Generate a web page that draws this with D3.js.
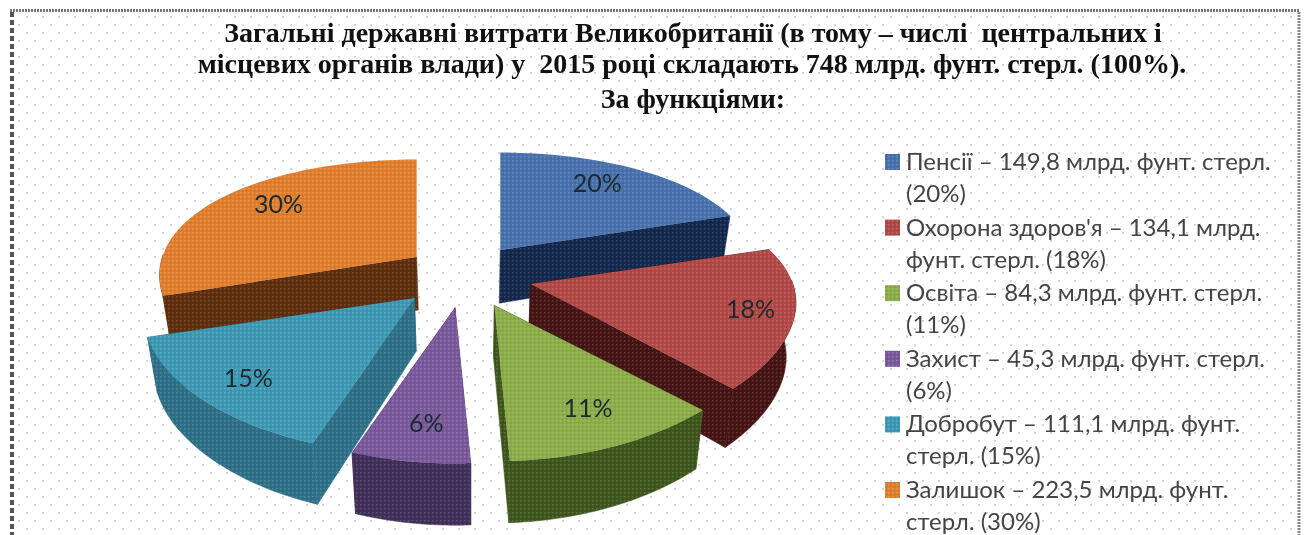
<!DOCTYPE html>
<html><head><meta charset="utf-8">
<script src="https://cdn.jsdelivr.net/npm/d3@7/dist/d3.min.js"></script>
<style>html,body{margin:0;padding:0;background:#fff;overflow:hidden}svg{display:block}
.soft{filter:blur(0.6px)}</style></head><body><div id="c"></div>
<script>
const categories=["Пенсії","Охорона здоров'я","Освіта","Захист","Добробут","Залишок"];
const values=[149.8,134.1,84.3,45.3,111.1,223.5];
const percents=[20,18,11,6,15,30];
const legendLines=[["Пенсії – 149,8 млрд. фунт. стерл.","(20%)"],["Охорона здоров'я – 134,1 млрд.","фунт. стерл. (18%)"],["Освіта – 84,3 млрд. фунт. стерл.","(11%)"],["Захист – 45,3 млрд. фунт. стерл.","(6%)"],["Добробут – 111,1 млрд. фунт.","стерл. (15%)"],["Залишок – 223,5 млрд. фунт.","стерл. (30%)"]];
const titleLines=["Загальні державні витрати Великобританії (в тому – числі  центральних і","місцевих органів влади) у  2015 році складають 748 млрд. фунт. стерл. (100%).","За функціями:"];
const topColors=["#4a72ae","#b34a48","#8dae4a","#7a5a9c","#3f9ab6","#e27f2e"];
const wallColors=["#14294e","#461414","#3f561c","#41305a","#2f7188","#5f2f0e"];

const W=1305,H=535;
const svg=d3.select("#c").append("svg").attr("width",W).attr("height",H);
const defs=svg.append("defs");
const bg=defs.append("pattern").attr("id","bgdots").attr("width",16).attr("height",16).attr("patternUnits","userSpaceOnUse");
bg.append("rect").attr("x",10.2).attr("y",0.2).attr("width",1.6).attr("height",1.6).attr("fill","#bdbdbd");
bg.append("rect").attr("x",2.2).attr("y",8.2).attr("width",1.6).attr("height",1.6).attr("fill","#bdbdbd");
const tex=defs.append("pattern").attr("id","tex").attr("width",4).attr("height",4).attr("patternUnits","userSpaceOnUse");
tex.append("rect").attr("width",1.4).attr("height",1.4).attr("fill","#fff").attr("opacity",.16);
tex.append("rect").attr("x",2).attr("y",2).attr("width",1.4).attr("height",1.4).attr("fill","#000").attr("opacity",.12);

const root=svg.append("g").attr("class","soft");
root.append("rect").attr("x",14).attr("y",12).attr("width",1283).attr("height",H).attr("fill","url(#bgdots)");
const edge=(d,c,w,dash)=>root.append("path").attr("d",d).attr("fill","none").attr("stroke",c).attr("stroke-width",w).attr("stroke-dasharray",dash);
edge(`M10 10.5H1300`,"#777",3,"2 1");
edge(`M12 12V${H}`,"#555",4,"5 3");
edge(`M1299 12V${H}`,"#888",3,"2 1");

const title=root.append("text").attr("text-anchor","middle").attr("font-family","Liberation Serif").attr("font-weight","bold").attr("font-size",28).attr("fill","#111").attr("xml:space","preserve");
const titleX=[693,692,693],titleY=[42,73,108];
titleLines.forEach((t,i)=>title.append("tspan").attr("x",titleX[i]).attr("y",titleY[i]).text(t));

// perspective pie from d3.pie
const cx=465.5,cy=276,Rx=260,Ry=120,perspX=.15,perspY=.23,ex=65,ey=32,explode=.25,vx=470,shrink=.97;
const pie=d3.pie().sort(null).value(d=>d);
const arcs=pie(values);
const pt=(a,r,ax,ay,offY)=>{
  const Y=-Math.cos(a)*r,X=Math.sin(a)*r;
  const sx=1/(1-perspX*(Y+offY)),sy=1/(1-perspY*Y);
  return [ax+Rx*X*sx,ay+Ry*Y*sy,sy,Y];
};
const down=p=>[vx+(p[0]-vx)*shrink,p[1]+24+29*p[2]];
const line=d3.line();
const sectors=arcs.map((d,i)=>{
  const mid=(d.startAngle+d.endAngle)/2;
  const offY=-Math.cos(mid)*explode;
  const ax=cx+ex*Math.sin(mid)/(1-.5*offY),ay=cy-ey*Math.cos(mid);
  const steps=d3.range(0,41).map(k=>d.startAngle+(d.endAngle-d.startAngle)*k/40);
  const rim=steps.map(a=>pt(a,1,ax,ay,offY));
  return {i,mid,ax,ay,offY,rim,apex:[ax,ay,1,0]};
}).sort((a,b)=>-Math.cos(a.mid)-(-Math.cos(b.mid)));
const pies=root.append("g");
sectors.forEach(s=>{
  const g=pies.append("g");
  const walls=[];
  if(s.rim[0][3]>-.8) walls.push([s.apex,s.rim[0]]);
  if(s.rim[40][3]>-.8) walls.push([s.apex,s.rim[40]]);
  const front=s.rim.filter(p=>p[3]>-.05);
  if(front.length>1) walls.push(front);
  walls.forEach(w=>{
    const poly=w.concat(w.slice().reverse().map(down)).map(p=>[p[0],p[1]]);
    g.append("path").attr("d",line(poly)+"Z").attr("fill",wallColors[s.i]).attr("stroke",wallColors[s.i]).attr("stroke-width",.5);
    g.append("path").attr("d",line(poly)+"Z").attr("fill","url(#tex)");
  });
  const top=[s.apex].concat(s.rim).map(p=>[p[0],p[1]]);
  g.append("path").attr("d",line(top)+"Z").attr("fill",topColors[s.i]);
  g.append("path").attr("d",line(top)+"Z").attr("fill","url(#tex)");
});
// percentage labels placed on the top face
const labelR=[.74,.82,.78,.78,.86,.71];
const labelNudgeX=[-4,5,1,5,15,-1],labelNudgeY=[-3,0,0,4,-3,-6];
sectors.forEach(s=>{
  const p=pt(s.mid,labelR[s.i],s.ax,s.ay,s.offY);
  root.append("text").attr("x",p[0]+labelNudgeX[s.i]).attr("y",p[1]+8+labelNudgeY[s.i]).attr("text-anchor","middle").attr("font-family","Lato").attr("font-size",25).attr("fill","#1c2a30").text(percents[s.i]+"%");
});
// legend
const leg=root.append("g");
const rowY=d3.scaleLinear().domain([0,1]).range([162,227.6]);
legendLines.forEach((ls,i)=>{
  const y=rowY(i);
  leg.append("rect").attr("x",885).attr("y",y-8).attr("width",15).attr("height",16).attr("fill",topColors[i]);
  leg.append("rect").attr("x",885).attr("y",y-8).attr("width",15).attr("height",16).attr("fill","url(#tex)");
  ls.forEach((t,j)=>leg.append("text").attr("x",906).attr("y",y+8+j*32).attr("font-family","Lato").attr("font-size",24).attr("fill","#444").text(t));
});
</script></body></html>
